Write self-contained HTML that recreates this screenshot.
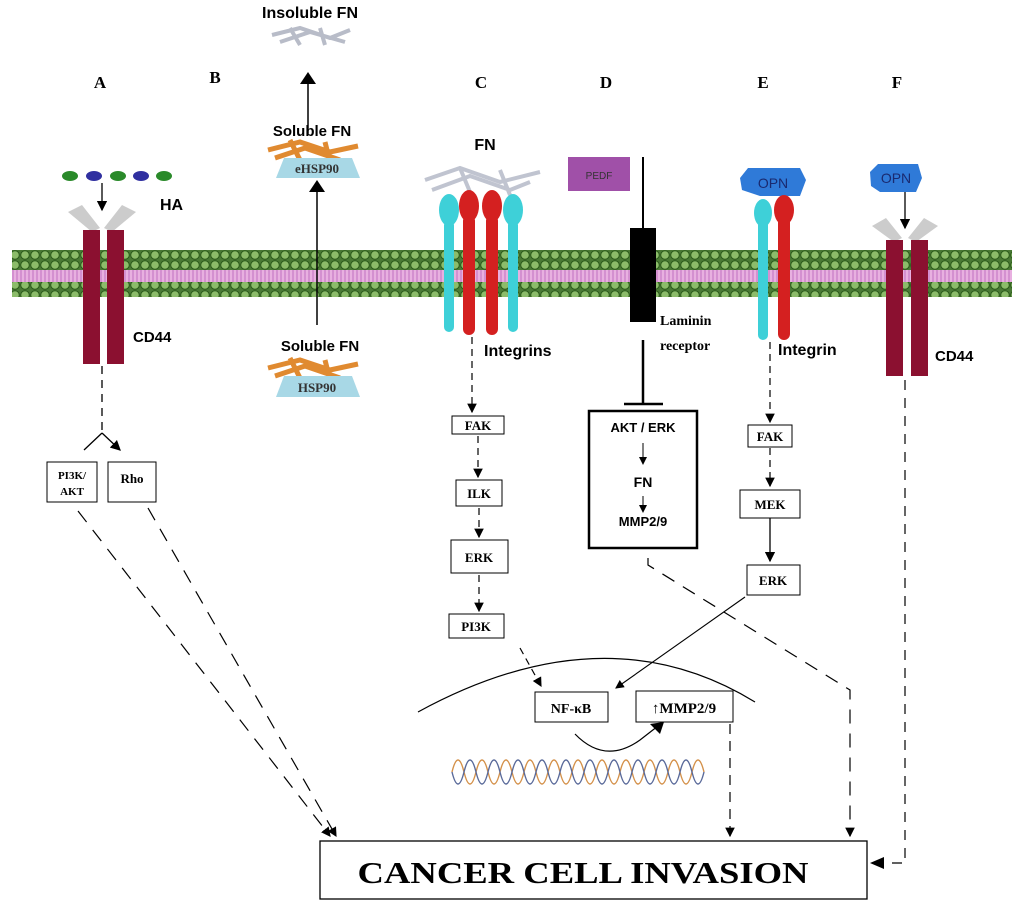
<!DOCTYPE html><html><head><style>body{margin:0;background:#fff}svg{display:block}
.s{font-family:"Liberation Sans",sans-serif;font-weight:bold}
.r{font-family:"Liberation Serif",serif;font-weight:bold}</style></head><body>
<svg width="1024" height="906" viewBox="0 0 1024 906" xmlns="http://www.w3.org/2000/svg">
<defs>
<pattern id="g" width="10" height="10" patternUnits="userSpaceOnUse"><rect width="10" height="10" fill="#4a7a35"/><circle cx="5" cy="5" r="4.3" fill="#8cbc6a" stroke="#2a5a1a" stroke-width="1"/></pattern>
<pattern id="p" width="4" height="12" patternUnits="userSpaceOnUse"><rect width="4" height="12" fill="#e8b0e0"/><line x1="1" y1="0" x2="1" y2="12" stroke="#c070c0" stroke-width="1"/></pattern>
<marker id="a" markerWidth="8" markerHeight="8" refX="7" refY="4" orient="auto"><path d="M0,0L8,4L0,8z" fill="#000"/></marker>
</defs>
<rect x="12" y="250" width="1000" height="20" fill="url(#g)"/>
<rect x="12" y="270" width="1000" height="12" fill="url(#p)"/>
<rect x="12" y="282" width="1000" height="15" fill="url(#g)"/>
<g class="r" font-size="17" text-anchor="middle"><text x="100" y="88">A</text><text x="215" y="83">B</text><text x="481" y="88">C</text><text x="606" y="88">D</text><text x="763" y="88">E</text><text x="897" y="88">F</text></g>
<text class="s" x="310" y="18" font-size="16" text-anchor="middle">Insoluble FN</text>
<path d="M272,35 L300,28 L330,38 L350,30 M280,42 L310,32 L345,42 M290,28 L300,45 M320,28 L325,45" stroke="#b8bcc8" stroke-width="4" fill="none"/>
<line x1="308" y1="133" x2="308" y2="82" stroke="#000" stroke-width="1.5"/><path d="M300,84L308,72L316,84z"/>
<text class="s" x="312" y="136" font-size="15" text-anchor="middle">Soluble  FN</text>
<path d="M268,150 L300,142 L330,152 L358,146 M275,158 L305,148 L340,160 M290,140 L300,160 M325,142 L330,162" stroke="#e08a30" stroke-width="5" fill="none"/>
<path d="M284,158 L352,158 L360,178 L276,178z" fill="#a8d8e6"/>
<text class="r" x="317" y="173" font-size="13" text-anchor="middle" font-weight="normal" fill="#333">eHSP90</text>
<line x1="317" y1="325" x2="317" y2="190" stroke="#000" stroke-width="1.5"/><path d="M309,192L317,180L325,192z"/>
<text class="s" x="320" y="351" font-size="15" text-anchor="middle">Soluble  FN</text>
<path d="M268,368 L300,360 L330,370 L358,364 M275,376 L305,366 L340,378 M290,358 L300,378 M325,360 L330,380" stroke="#e08a30" stroke-width="5" fill="none"/>
<path d="M284,376 L352,376 L360,397 L276,397z" fill="#a8d8e6"/>
<text class="r" x="317" y="392" font-size="13" font-weight="normal" fill="#333" text-anchor="middle">HSP90</text>
<g fill="#2a8a2a"><ellipse cx="70" cy="176" rx="8" ry="5"/><ellipse cx="118" cy="176" rx="8" ry="5"/><ellipse cx="164" cy="176" rx="8" ry="5"/></g>
<g fill="#3030a0"><ellipse cx="94" cy="176" rx="8" ry="5"/><ellipse cx="141" cy="176" rx="8" ry="5"/></g>
<line x1="102" y1="183" x2="102" y2="210" stroke="#000" stroke-width="1.3" marker-end="url(#a)"/>
<path d="M68,212 L82,205 L100,228 L92,232z M136,212 L122,205 L104,228 L112,232z" fill="#ccc"/>
<rect x="83" y="230" width="17" height="134" fill="#8b1030"/><rect x="107" y="230" width="17" height="134" fill="#8b1030"/>
<text class="s" x="160" y="210" font-size="16">HA</text>
<text class="s" x="133" y="342" font-size="15">CD44</text>
<path d="M102,366 L102,433" stroke="#000" stroke-width="1.3" stroke-dasharray="8,6" fill="none"/>
<path d="M102,433 L84,450 M102,433 L120,450" stroke="#000" stroke-width="1.3" fill="none" marker-end="url(#a)"/>
<rect x="47" y="462" width="50" height="40" fill="#fff" stroke="#000"/>
<text class="r" x="72" y="479" font-size="11" text-anchor="middle">PI3K/</text><text class="r" x="72" y="495" font-size="11" text-anchor="middle">AKT</text>
<rect x="108" y="462" width="48" height="40" fill="#fff" stroke="#000"/>
<text class="r" x="132" y="483" font-size="13" text-anchor="middle" font-weight="normal">Rho</text>
<line x1="78" y1="511" x2="330" y2="836" stroke="#000" stroke-width="1.2" stroke-dasharray="14,10" marker-end="url(#a)"/>
<line x1="148" y1="508" x2="336" y2="836" stroke="#000" stroke-width="1.2" stroke-dasharray="14,10" marker-end="url(#a)"/>
<text class="s" x="485" y="150" font-size="16" text-anchor="middle">FN</text>
<path d="M425,180 L460,168 L500,182 L540,172 M432,190 L470,176 L510,190 L530,182 M460,168 L470,192 M500,170 L510,195" stroke="#c0c4d0" stroke-width="4" fill="none"/>
<g fill="#3ed0d8"><ellipse cx="449" cy="210" rx="10" ry="16"/><rect x="444" y="220" width="10" height="112" rx="5"/><ellipse cx="513" cy="210" rx="10" ry="16"/><rect x="508" y="220" width="10" height="112" rx="5"/></g>
<g fill="#d42020"><ellipse cx="469" cy="206" rx="10" ry="16"/><rect x="463" y="215" width="12" height="120" rx="6"/><ellipse cx="492" cy="206" rx="10" ry="16"/><rect x="486" y="215" width="12" height="120" rx="6"/></g>
<text class="s" x="484" y="356" font-size="16">Integrins</text>
<g stroke="#000" stroke-width="1.2" stroke-dasharray="7,5"><line x1="472" y1="337" x2="472" y2="412" marker-end="url(#a)"/><line x1="478" y1="436" x2="478" y2="477" marker-end="url(#a)"/><line x1="479" y1="508" x2="479" y2="537" marker-end="url(#a)"/><line x1="479" y1="575" x2="479" y2="611" marker-end="url(#a)"/><line x1="520" y1="648" x2="541" y2="686" marker-end="url(#a)"/></g>
<rect x="452" y="416" width="52" height="18" fill="#fff" stroke="#000"/><text class="r" x="478" y="430" font-size="13" text-anchor="middle" font-weight="normal">FAK</text>
<rect x="456" y="480" width="46" height="26" fill="#fff" stroke="#000"/><text class="r" x="479" y="498" font-size="13" text-anchor="middle" font-weight="normal">ILK</text>
<rect x="451" y="540" width="57" height="33" fill="#fff" stroke="#000"/><text class="r" x="479" y="562" font-size="13" text-anchor="middle" font-weight="normal">ERK</text>
<rect x="449" y="614" width="55" height="24" fill="#fff" stroke="#000"/><text class="r" x="476" y="631" font-size="13" text-anchor="middle" font-weight="normal">PI3K</text>
<rect x="568" y="157" width="62" height="34" fill="#a050a8"/>
<text x="599" y="179" font-family="Liberation Sans,sans-serif" font-size="10" fill="#333" text-anchor="middle">PEDF</text>
<line x1="643" y1="157" x2="643" y2="230" stroke="#000" stroke-width="2"/>
<rect x="630" y="228" width="26" height="94" fill="#000"/>
<text class="r" x="660" y="325" font-size="14">Laminin</text><text class="r" x="660" y="350" font-size="14">receptor</text>
<line x1="643" y1="340" x2="643" y2="404" stroke="#000" stroke-width="2.5"/><line x1="624" y1="404" x2="663" y2="404" stroke="#000" stroke-width="2.5"/>
<rect x="589" y="411" width="108" height="137" fill="#fff" stroke="#000" stroke-width="2.5"/>
<text class="s" x="643" y="432" font-size="13" text-anchor="middle">AKT / ERK</text>
<line x1="643" y1="443" x2="643" y2="464" stroke="#000" marker-end="url(#a)"/>
<text class="s" x="643" y="487" font-size="14" text-anchor="middle" font-weight="normal">FN</text>
<line x1="643" y1="496" x2="643" y2="512" stroke="#000" marker-end="url(#a)"/>
<text class="s" x="643" y="526" font-size="13" text-anchor="middle">MMP2/9</text>
<path d="M648,558 L648,565 L850,690 L850,836" stroke="#000" stroke-width="1.2" stroke-dasharray="14,10" fill="none" marker-end="url(#a)"/>
<path d="M740,178 L748,168 L800,168 L806,180 L800,196 L760,196 L742,190z" fill="#2f7ad8"/>
<text x="773" y="188" font-family="Liberation Sans,sans-serif" font-size="14" fill="#1a2a70" text-anchor="middle">OPN</text>
<ellipse cx="763" cy="213" rx="9" ry="14" fill="#3ed0d8"/><rect x="758" y="220" width="10" height="120" rx="5" fill="#3ed0d8"/>
<ellipse cx="784" cy="210" rx="10" ry="15" fill="#d42020"/><rect x="778" y="215" width="12" height="125" rx="6" fill="#d42020"/>
<text class="s" x="778" y="355" font-size="16">Integrin</text>
<line x1="770" y1="342" x2="770" y2="422" stroke="#000" stroke-width="1.2" stroke-dasharray="7,5" marker-end="url(#a)"/>
<rect x="748" y="425" width="44" height="22" fill="#fff" stroke="#000"/><text class="r" x="770" y="441" font-size="13" text-anchor="middle" font-weight="normal">FAK</text>
<line x1="770" y1="448" x2="770" y2="486" stroke="#000" stroke-width="1.2" stroke-dasharray="7,5" marker-end="url(#a)"/>
<rect x="740" y="490" width="60" height="28" fill="#fff" stroke="#000"/><text class="r" x="770" y="509" font-size="13" text-anchor="middle" font-weight="normal">MEK</text>
<line x1="770" y1="518" x2="770" y2="561" stroke="#000" stroke-width="1.3" marker-end="url(#a)"/>
<rect x="747" y="565" width="53" height="30" fill="#fff" stroke="#000"/><text class="r" x="773" y="585" font-size="13" text-anchor="middle" font-weight="normal">ERK</text>
<line x1="745" y1="597" x2="616" y2="688" stroke="#000" stroke-width="1.1" marker-end="url(#a)"/>
<path d="M870,172 L878,164 L918,164 L922,178 L916,192 L880,192 L871,186z" fill="#2f7ad8"/>
<text x="896" y="183" font-family="Liberation Sans,sans-serif" font-size="14" fill="#1a2a70" text-anchor="middle">OPN</text>
<line x1="905" y1="192" x2="905" y2="228" stroke="#000" stroke-width="1.3" marker-end="url(#a)"/>
<path d="M872,226 L886,218 L902,238 L894,242z M938,226 L924,218 L908,238 L916,242z" fill="#ccc"/>
<rect x="886" y="240" width="17" height="136" fill="#8b1030"/><rect x="911" y="240" width="17" height="136" fill="#8b1030"/>
<text class="s" x="935" y="361" font-size="15">CD44</text>
<path d="M418,712 Q605,610 755,702" stroke="#000" fill="none" stroke-width="1.2"/>
<rect x="535" y="692" width="73" height="30" fill="#fff" stroke="#000"/><text class="r" x="571" y="713" font-size="14" text-anchor="middle">NF-κB</text>
<rect x="636" y="691" width="97" height="31" fill="#fff" stroke="#000"/><text class="r" x="684" y="713" font-size="15" text-anchor="middle" font-weight="normal">↑MMP2/9</text>
<path d="M575,734 Q605,765 640,740 L658,726" stroke="#000" fill="none" stroke-width="1.2"/><path d="M650,724 L664,722 L660,734z"/>
<g stroke-width="1.4" fill="none">
<path d="M452,772 q6,-24 12,0 t12,0 t12,0 t12,0 t12,0 t12,0 t12,0 t12,0 t12,0 t12,0 t12,0 t12,0 t12,0 t12,0 t12,0 t12,0 t12,0 t12,0 t12,0 t12,0 t12,0" stroke="#d4914a"/>
<path d="M452,772 q6,24 12,0 t12,0 t12,0 t12,0 t12,0 t12,0 t12,0 t12,0 t12,0 t12,0 t12,0 t12,0 t12,0 t12,0 t12,0 t12,0 t12,0 t12,0 t12,0 t12,0 t12,0" stroke="#5a6a9a"/>
</g>
<line x1="730" y1="724" x2="730" y2="836" stroke="#000" stroke-width="1.2" stroke-dasharray="10,7" marker-end="url(#a)"/>
<rect x="320" y="841" width="547" height="58" fill="#fff" stroke="#000" stroke-width="1.3"/>
<text x="583" y="883" font-family="Liberation Serif,serif" font-weight="bold" font-size="31" text-anchor="middle" textLength="451" lengthAdjust="spacingAndGlyphs">CANCER CELL INVASION</text>
<path d="M905,380 L905,863 L884,863" stroke="#000" stroke-width="1.2" stroke-dasharray="10,8" fill="none"/>
<path d="M884,857 L870,863 L884,869z"/>
</svg></body></html>
